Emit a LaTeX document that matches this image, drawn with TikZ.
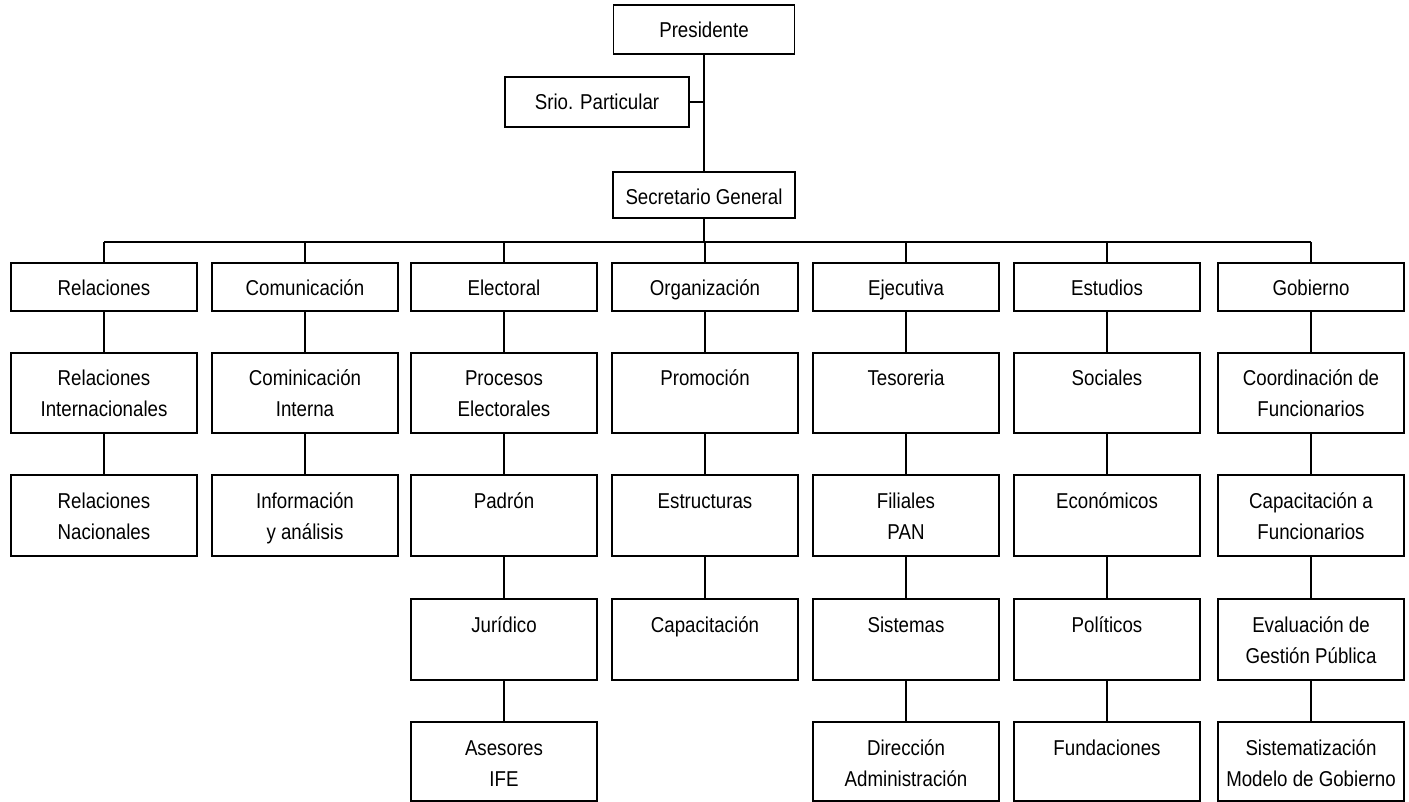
\documentclass[tikz,border=0pt]{standalone}
\usepackage{fontspec}
\setmainfont[FakeStretch=0.87]{Liberation Sans}
\newcommand{\bx}[3][186]{\parbox[c][#2pt][t]{#1pt}{\centering\rule{0pt}{33pt}#3}}
\tikzset{
  orgbox/.style={draw, line width=1.2pt, inner sep=0pt, font=\fontsize{21.5pt}{31pt}\selectfont},
  link/.style={line width=1.2pt}
}
\begin{document}
\begin{tikzpicture}[x=1pt,y=-1pt]
\useasboundingbox (0,0) rectangle (1409,802);
% top
\node[orgbox] (pres) at (704,29.5) {\bx[181]{49}{Presidente}};
\node[orgbox] (srio) at (597,102) {\bx[184]{50}{Srio. Particular}};
\node[orgbox] (sec) at (704,195) {\bx[182]{46}{Secretario General}};
\coordinate (bus) at (704,242);
% columns
\foreach \n/\x in {1/104,2/305,3/504,4/705,5/906,6/1107,7/1311}{
  \coordinate (col\n) at (\x,0);
}
% row 1
\node[orgbox] (a1) at (col1 |- 0,287) {\bx{48}{Relaciones}};
\node[orgbox] (a2) at (col2 |- 0,287) {\bx{48}{Comunicación}};
\node[orgbox] (a3) at (col3 |- 0,287) {\bx{48}{Electoral}};
\node[orgbox] (a4) at (col4 |- 0,287) {\bx{48}{Organización}};
\node[orgbox] (a5) at (col5 |- 0,287) {\bx{48}{Ejecutiva}};
\node[orgbox] (a6) at (col6 |- 0,287) {\bx{48}{Estudios}};
\node[orgbox] (a7) at (col7 |- 0,287) {\bx{48}{Gobierno}};
% row 2
\node[orgbox] (b1) at (col1 |- 0,393) {\bx{80}{Relaciones\\Internacionales}};
\node[orgbox] (b2) at (col2 |- 0,393) {\bx{80}{Cominicación\\Interna}};
\node[orgbox] (b3) at (col3 |- 0,393) {\bx{80}{Procesos\\Electorales}};
\node[orgbox] (b4) at (col4 |- 0,393) {\bx{80}{Promoción}};
\node[orgbox] (b5) at (col5 |- 0,393) {\bx{80}{Tesoreria}};
\node[orgbox] (b6) at (col6 |- 0,393) {\bx{80}{Sociales}};
\node[orgbox] (b7) at (col7 |- 0,393) {\bx{80}{Coordinación de\\Funcionarios}};
% row 3
\node[orgbox] (c1) at (col1 |- 0,515.5) {\bx{81}{Relaciones\\Nacionales}};
\node[orgbox] (c2) at (col2 |- 0,515.5) {\bx{81}{Información\\y análisis}};
\node[orgbox] (c3) at (col3 |- 0,515.5) {\bx{81}{Padrón}};
\node[orgbox] (c4) at (col4 |- 0,515.5) {\bx{81}{Estructuras}};
\node[orgbox] (c5) at (col5 |- 0,515.5) {\bx{81}{Filiales\\PAN}};
\node[orgbox] (c6) at (col6 |- 0,515.5) {\bx{81}{Económicos}};
\node[orgbox] (c7) at (col7 |- 0,515.5) {\bx{81}{Capacitación a\\Funcionarios}};
% row 4
\node[orgbox] (d3) at (col3 |- 0,639.5) {\bx{81}{Jurídico}};
\node[orgbox] (d4) at (col4 |- 0,639.5) {\bx{81}{Capacitación}};
\node[orgbox] (d5) at (col5 |- 0,639.5) {\bx{81}{Sistemas}};
\node[orgbox] (d6) at (col6 |- 0,639.5) {\bx{81}{Políticos}};
\node[orgbox] (d7) at (col7 |- 0,639.5) {\bx{81}{Evaluación de\\Gestión Pública}};
% row 5
\node[orgbox] (e3) at (col3 |- 0,761.5) {\bx{79}{Asesores\\IFE}};
\node[orgbox] (e5) at (col5 |- 0,761.5) {\bx{79}{Dirección\\Administración}};
\node[orgbox] (e6) at (col6 |- 0,761.5) {\bx{79}{Fundaciones}};
\node[orgbox] (e7) at (col7 |- 0,761.5) {\bx{79}{Sistematización\\Modelo de Gobierno}};
% connectors
\draw[link] (pres.south) -- (sec.north);
\draw[link] (srio.east) -- (srio.east -| pres.south);
\draw[link] (sec.south) -- (bus);
\draw[link] (a1.north |- bus) -- (a7.north |- bus);
\foreach \n in {1,...,7}{
  \draw[link] (a\n.north |- bus) -- (a\n.north);
  \draw[link] (a\n.south) -- (b\n.north);
  \draw[link] (b\n.south) -- (c\n.north);
}
\foreach \n in {3,...,7}{
  \draw[link] (c\n.south) -- (d\n.north);
}
\foreach \n in {3,5,6,7}{
  \draw[link] (d\n.south) -- (e\n.north);
}
\end{tikzpicture}
\end{document}
